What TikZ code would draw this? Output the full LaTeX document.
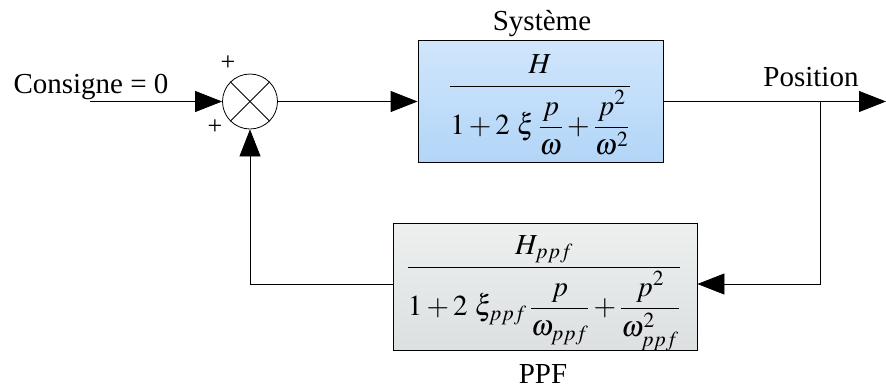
\documentclass[tikz,border=0pt]{standalone}
\usepackage{amsmath}
\usepackage{mathptmx}
\usepackage[no-math]{fontspec}
\setmainfont{Liberation Serif}
\usetikzlibrary{arrows.meta}
\definecolor{skyA}{RGB}{208,230,252}
\definecolor{skyB}{RGB}{178,213,247}
\definecolor{marA}{RGB}{238,240,240}
\definecolor{marB}{RGB}{220,224,224}
\begin{document}
\begin{tikzpicture}[x=1pt,y=-1pt,
  lbl/.style={font=\fontsize{29}{33}\selectfont, inner sep=0pt, anchor=base},
  pls/.style={font=\fontsize{26}{30}\selectfont, inner sep=0pt},
  arr/.style={line width=0.8pt, -{Triangle[length=27pt,width=21pt]}},
  sumnode/.style={circle, draw, line width=0.8pt, minimum size=55pt, inner sep=0pt},
  blockbox/.style={draw, line width=0.8pt, inner sep=0pt},
  mathtxt/.style={inner sep=0pt, font=\fontsize{29}{34}\selectfont}
]
\useasboundingbox (0,0) rectangle (886,389);

\node[sumnode] (sum) at (250,101.5) {};
\draw[line width=0.8pt] (sum.north west) -- (sum.south east);
\draw[line width=0.8pt] (sum.north east) -- (sum.south west);

\node[blockbox, minimum width=245pt, minimum height=122pt,
  top color=skyA, bottom color=skyB] (sys) at (540.5,101.5) {};
\begin{scope}
  \clip (sys.south west) rectangle (sys.north east);
  \node[mathtxt] (sysm) at (540,105)
  {$\displaystyle\frac{H}{1+2\ \xi\,\dfrac{p}{\omega}+\dfrac{p^2}{\omega^2}}$};
\end{scope}

\node[blockbox, minimum width=304pt, minimum height=127pt,
  top color=marA, bottom color=marB] (ppf) at (545,286.5) {};
\begin{scope}
  \clip (ppf.south west) rectangle (ppf.north east);
  \node[mathtxt] (ppfm) at (544,293)
  {$\displaystyle\frac{H_{ppf}}{1+2\ \xi_{ppf}\,\dfrac{p}{\omega_{ppf}}+\dfrac{p^2}{\omega^2_{ppf}}}$};
\end{scope}

\coordinate (in) at (90,101.5);
\coordinate (out) at (886,101.5);
\coordinate (br) at (820,101.5);
\coordinate (fb) at (820,284);

\node[lbl] (cons) at (91,93) {Consigne = 0};
\node[lbl] (systxt) at (542,30) {Système};
\node[lbl] (postxt) at (811,86) {Position};
\node[lbl] (ppftxt) at (543,383) {PPF};
\node[pls] (p1) at (228,63) {+};
\node[pls] (p2) at (215,127) {+};

\draw[arr] (in) -- (sum.west);
\draw[arr] (sum.east) -- (sys.west);
\draw[arr] (sys.east) -- (out);
\draw[arr] (br) -- (fb) -- (fb -| ppf.east);
\draw[arr] (fb -| ppf.west) -| (sum.south);
\end{tikzpicture}
\end{document}
